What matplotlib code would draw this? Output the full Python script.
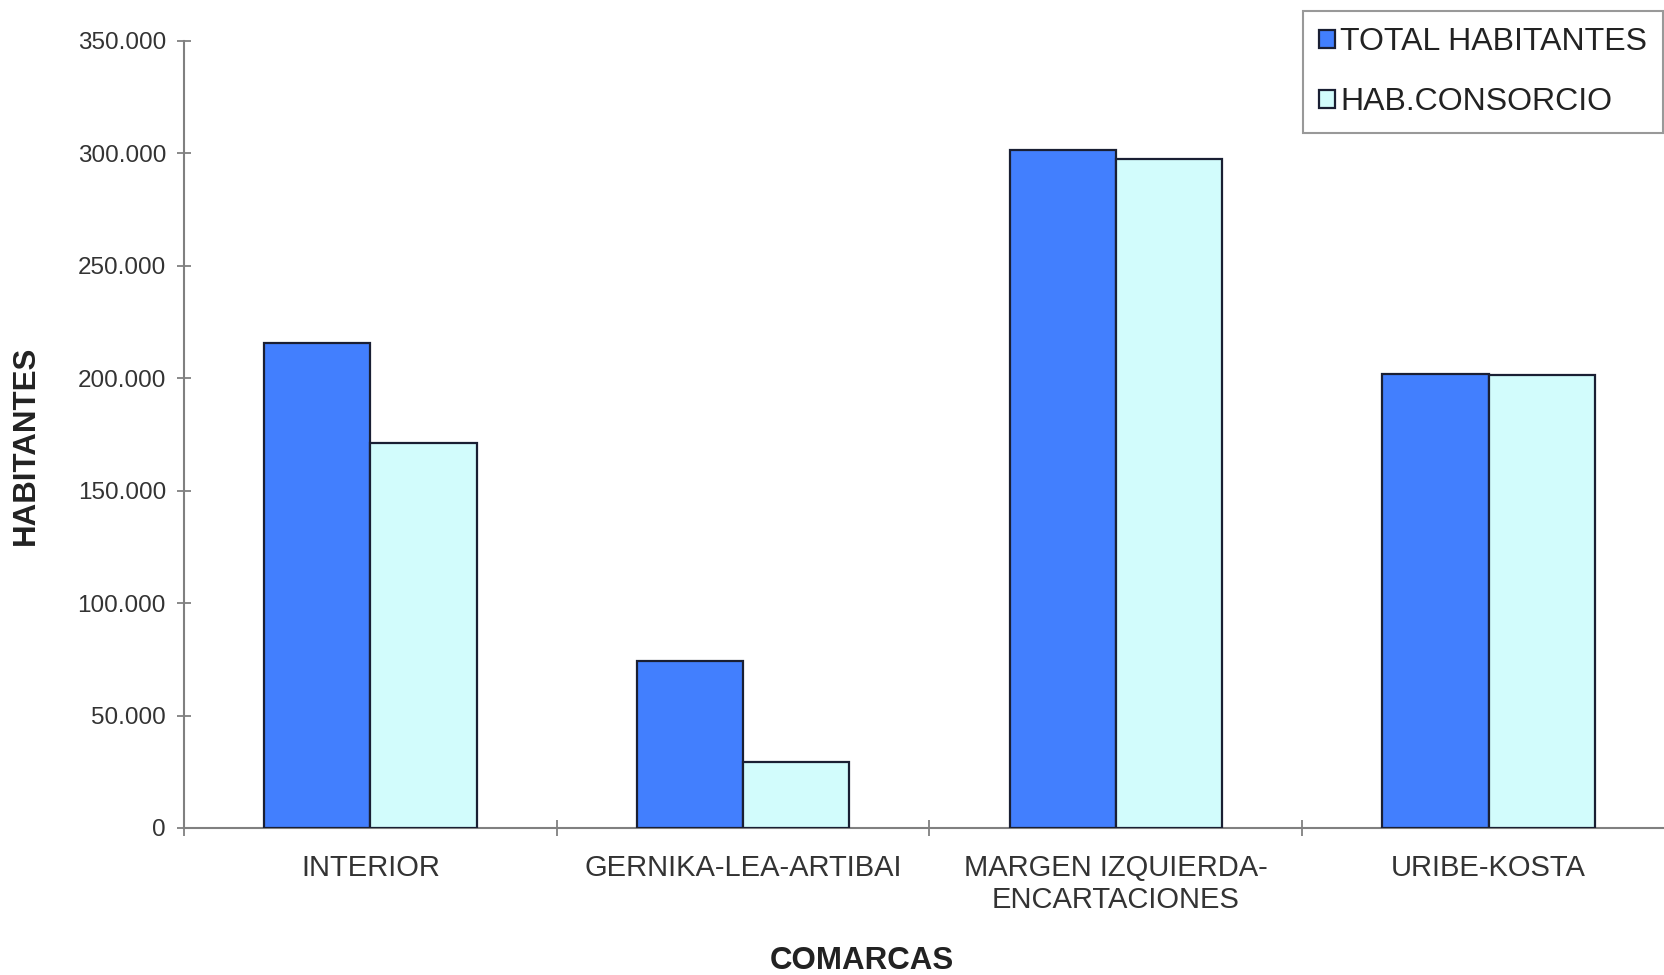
import numpy as np
import matplotlib.pyplot as plt
from matplotlib.ticker import FuncFormatter

# Datos
comarcas = ["INTERIOR", "GERNIKA-LEA-ARTIBAI", "MARGEN IZQUIERDA-\nENCARTACIONES", "URIBE-KOSTA"]
total_habitantes = [215500, 74400, 301600, 201900]
hab_consorcio = [171000, 29500, 297600, 201500]

plt.rcParams['font.family'] = ['Liberation Sans', 'DejaVu Sans']

AXIS_COLOR = "#808080"
TEXT_COLOR = "#333333"


def main():
    fig = plt.figure(figsize=(16.65, 9.75), dpi=100)
    ax = fig.add_axes([184 / 1665, 1 - 828 / 975, (1675 - 184) / 1665, (828 - 41) / 975])

    x = np.arange(len(comarcas))
    w = 0.285
    ax.bar(x - w / 2, total_habitantes, w, color="#427ffe", edgecolor="#1a1f33",
           linewidth=1.6, label="TOTAL HABITANTES", zorder=3)
    ax.bar(x + w / 2, hab_consorcio, w, color="#d2fcfc", edgecolor="#1a1f33",
           linewidth=1.6, label="HAB.CONSORCIO", zorder=3)

    ax.set_xlim(-0.5, len(comarcas) - 0.5)
    ax.set_ylim(0, 350000)
    ax.set_yticks(np.arange(0, 350001, 50000))
    ax.yaxis.set_major_formatter(FuncFormatter(lambda v, p: f"{int(v):,}".replace(",", ".")))

    ax.set_xticks(x)
    ax.set_xticklabels(comarcas, fontsize=21, color=TEXT_COLOR, linespacing=1.15)
    ax.set_xticks(np.arange(-0.5, len(comarcas), 1), minor=True)
    ax.tick_params(axis="x", which="major", length=0, pad=19)
    ax.tick_params(axis="x", which="minor", direction="inout", length=12,
                   width=1.3, color=AXIS_COLOR)
    ax.tick_params(axis="y", direction="inout", length=10, width=1.3,
                   color=AXIS_COLOR, labelsize=17.5, labelcolor=TEXT_COLOR, pad=8)

    for s in ["top", "right"]:
        ax.spines[s].set_visible(False)
    for s in ["left", "bottom"]:
        ax.spines[s].set_color(AXIS_COLOR)
        ax.spines[s].set_linewidth(1.5)

    fig.text(862 / 1665, 1 - 961 / 975, "COMARCAS", fontsize=22.5, fontweight="bold",
             color="#222222", ha="center", va="center")
    fig.text(26 / 1665, 1 - 445 / 975, "HABITANTES", fontsize=22.5, fontweight="bold",
             color="#222222", ha="center", va="center", rotation=90)

    leg = fig.legend(loc="upper right", bbox_to_anchor=(1663 / 1665, 1 - 11 / 975),
                     fontsize=23, frameon=True, fancybox=False, handlelength=0.5,
                     handleheight=0.5, handletextpad=0.15, labelspacing=0.95,
                     borderpad=0.5, borderaxespad=0)
    leg.get_frame().set_edgecolor("#808080")
    leg.get_frame().set_linewidth(1.5)
    for t in leg.get_texts():
        t.set_color("#222222")

    fig.savefig("out.png", dpi=100)
    plt.close(fig)


if __name__ == "__main__":
    main()
